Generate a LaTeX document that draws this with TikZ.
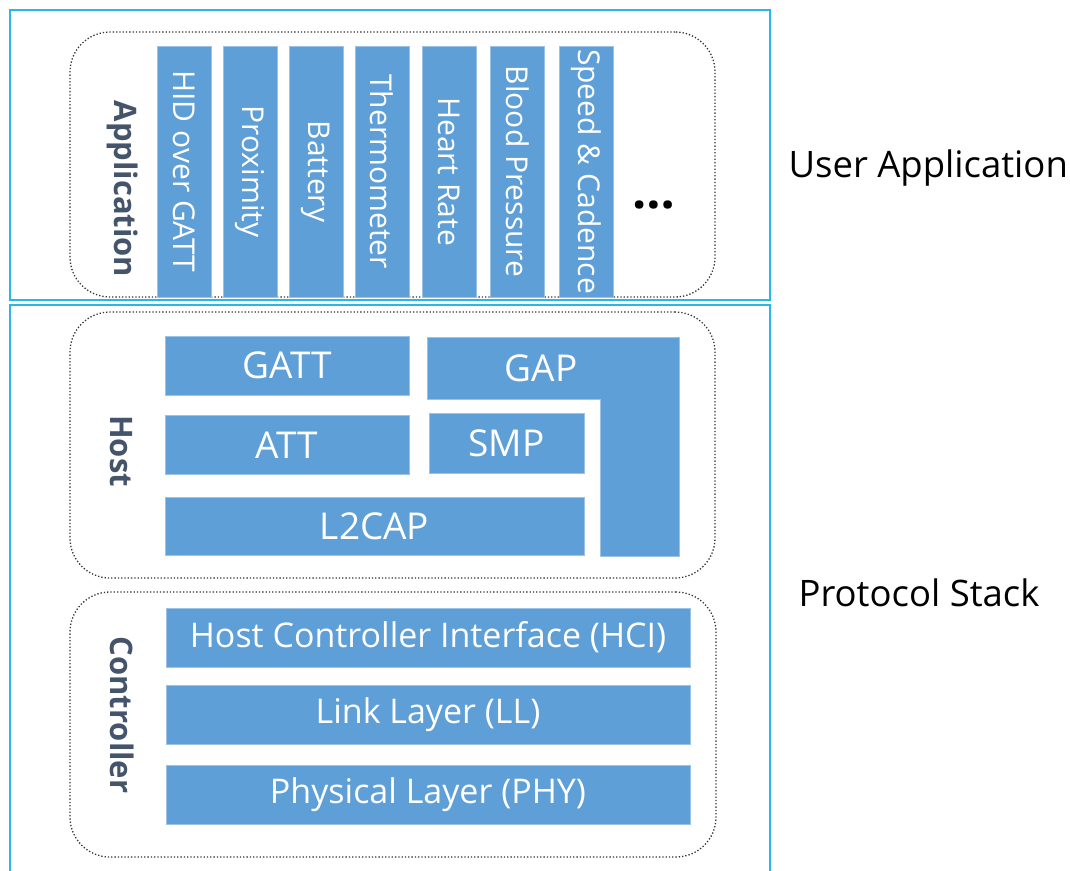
\documentclass[tikz,border=0pt]{standalone}
\usepackage{fontspec}
\setmainfont{Open Sans}
\usepackage{xcolor}
\usepackage{tikz}
\usetikzlibrary{positioning}
\definecolor{layerblue}{HTML}{5F9FD7}
\definecolor{layeredge}{HTML}{9CC2E5}
\definecolor{stackcyan}{HTML}{2BB5E8}
\definecolor{labelgray}{HTML}{44546A}
\tikzstyle{outer} = [rectangle, draw=stackcyan, line width=2pt]
\tikzstyle{group} = [rectangle, rounded corners=40pt, draw=black!80, dotted, line width=1.3pt]
\tikzstyle{layer} = [rectangle, fill=layerblue, draw=layeredge, line width=0.6pt, text=white, inner sep=0pt, font=\fontsize{34}{40}\selectfont]
\tikzstyle{hostlayer} = [layer, font=\fontsize{37}{44}\selectfont]
\tikzstyle{profile} = [layer, rotate=-90, minimum width=251pt, minimum height=54pt, font=\fontsize{30}{36}\selectfont]
\tikzstyle{side} = [text=labelgray, font=\fontsize{31}{36}\selectfont\bfseries, rotate=-90]
\tikzstyle{caption} = [font=\fontsize{36.5}{44}\selectfont, anchor=base west]

\begin{document}
\begin{tikzpicture}[x=1pt, y=-1pt]
    \useasboundingbox (0,0) rectangle (1070,870);
    % outer frames
    \node (userbox) [outer, minimum width=760pt, minimum height=290pt] at (390,155) {};
    \node (stackbox) [outer, minimum width=760pt, minimum height=575pt] at (390,592.5) {};
    \node (usercap) [caption] at (785,177) {User Application};
    \node (stackcap) [caption] at (795,606) {Protocol Stack};

    % application profiles
    \node (appgrp) [group, minimum width=645pt, minimum height=265pt] at (392.5,164.5) {};
    \node (applbl) [side] at (123,189) {Application};
    \node (hid) [profile] at (184.5,171.5) {HID over GATT};
    \node (prox) [profile] at (250,171.5) {Proximity};
    \node (batt) [profile] at (316,171.5) {Battery};
    \node (therm) [profile] at (382,171.5) {Thermometer};
    \node (heart) [profile] at (449,171.5) {Heart Rate};
    \node (blood) [profile] at (517.5,171.5) {Blood Pressure};
    \node (speed) [profile] at (586,171.5) {Speed \& Cadence};
    \node (more) [font=\fontsize{50}{50}\selectfont\bfseries] at (654,205) {…};

    % host
    \node (hostgrp) [group, minimum width=645pt, minimum height=266pt] at (392.5,445) {};
    \node (hostlbl) [side] at (121,451) {Host};
    \node (gatt) [hostlayer, minimum width=244pt, minimum height=59pt] at (287,365.5) {GATT};
    \node (att) [hostlayer, minimum width=244pt, minimum height=59pt, below=20pt of gatt] {ATT};
    \node (smp) [hostlayer, minimum width=155pt, minimum height=60pt] at (506.5,443) {SMP};
    \node (l2cap) [hostlayer, minimum width=419pt, minimum height=58pt] at (374.5,526) {L2CAP};
    \filldraw [fill=layerblue, draw=layeredge, line width=0.6pt] (427,337) -- (679,337) -- (679,556) -- (600,556) -- (600,399) -- (427,399) -- cycle;
    \node (gap) [text=white, font=\fontsize{37}{44}\selectfont] at (541,368) {GAP};

    % controller
    \node (ctrlgrp) [group, minimum width=646pt, minimum height=265pt] at (393,724.5) {};
    \node (ctrllbl) [side] at (122,715) {Controller};
    \node (hci) [layer, minimum width=524pt, minimum height=59pt] at (428,637.5) {Host Controller Interface (HCI)};
    \node (ll) [layer, minimum width=524pt, minimum height=59pt, below=18pt of hci] {Link Layer (LL)};
    \node (phy) [layer, minimum width=524pt, minimum height=59pt, below=20pt of ll] {Physical Layer (PHY)};
\end{tikzpicture}
\end{document}
